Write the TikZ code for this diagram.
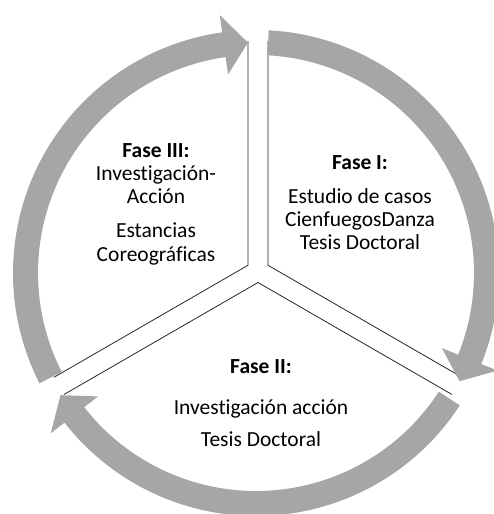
\documentclass[tikz,border=0pt]{standalone}
\usepackage{fontspec}
\setmainfont{Carlito}[Ligatures=NoCommon]
\usepackage{tikz}
\definecolor{ringgray}{RGB}{166,166,166}
\tikzstyle{ring} = [fill=ringgray, draw=none]
\tikzstyle{seg} = [draw, line width=0.8bp, black!85]
\tikzstyle{fase} = [align=center, font=\fontsize{21.5bp}{23.3bp}\selectfont, inner sep=0pt]

\begin{document}
\begin{tikzpicture}[x=1bp, y=1bp]
  \useasboundingbox (0,0) rectangle (494,514);
  \clip (0,0) rectangle (494,514);

  % the three pie pieces, pulled apart
  \coordinate (o) at (258,243);
  \coordinate (v1) at ([shift={(30:11.5)}]o);
  \coordinate (v2) at ([shift={(270:11.5)}]o);
  \coordinate (v3) at ([shift={(150:11.5)}]o);
  \coordinate (v1a) at ([shift={(90:224)}]v1);
  \coordinate (v1b) at ([shift={(-30:224)}]v1);
  \coordinate (v2a) at ([shift={(-30:224)}]v2);
  \coordinate (v2b) at ([shift={(210:224)}]v2);
  \coordinate (v3a) at ([shift={(210:224)}]v3);
  \coordinate (v3b) at ([shift={(90:224)}]v3);
  \draw[seg] (v1a) -- (v1) -- (v1b);
  \draw[seg] (v2a) -- (v2) -- (v2b);
  \draw[seg] (v3a) -- (v3) -- (v3b);

  % circular arrows
  \begin{scope}[shift={(256,241)}]
    \foreach \s/\t [evaluate=\t as \m using \t+6] in {87/-28, -33/-148, 207/92} {
      \fill[ring] (\s:243) arc[start angle=\s, end angle=\m, radius=243]
        -- (\m:260.5) -- (\t:230.5) -- (\m:200.5) -- (\m:218)
        arc[start angle=\m, end angle=\s, radius=218] -- cycle;
    }
  \end{scope}

  \node[fase] (f1) at (360,311) {\textbf{Fase I:}\\[10bp] Estudio de casos\\ CienfuegosDanza\\ Tesis Doctoral};
  \node[fase] (f2) at (261,111) {\textbf{Fase II:}\\[18bp] Investigación acción\\[8bp] Tesis Doctoral};
  \node[fase] (f3) at (156,310) {\textbf{Fase III:}\\ Investigación-\\ Acción\\[11bp] Estancias\\ Coreográficas};
\end{tikzpicture}
\end{document}
